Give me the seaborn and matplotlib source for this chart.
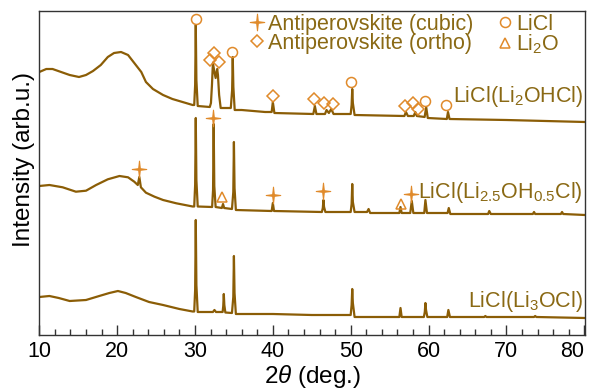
import numpy as np
import pandas as pd
import matplotlib
matplotlib.use("Agg")
import matplotlib.pyplot as plt
from matplotlib.path import Path
from matplotlib.ticker import MultipleLocator
import seaborn as sns

# ---- XRD patterns (2theta in degrees, intensity in arb. units) ----
li3ocl_2theta = [10.0, 11.3, 12.5, 13.9, 16.0, 17.7, 19.0, 20.1, 21.1, 22.4,
                 24.1, 25.9, 28.0, 29.7,
                 29.9, 30.02, 30.1, 30.18, 30.35,
                 32.3, 32.5, 32.7,
                 33.55, 33.63, 33.7, 33.77, 33.9,
                 34.75, 34.92, 35.0, 35.08, 35.25,
                 40.0, 45.0,
                 50.0, 50.12, 50.2, 50.28, 50.5,
                 56.25, 56.4, 56.55,
                 59.4, 59.52, 59.6, 59.68, 59.85,
                 62.4, 62.55, 62.75,
                 67.15, 67.3, 67.45,
                 73.55, 73.7, 73.85,
                 80.1]
li3ocl_int = [38, 39, 37, 34, 35, 39, 42, 44, 42, 38,
              33, 30, 26, 23.5,
              23.5, 45, 115, 50, 23,
              23, 25, 23,
              23, 29, 41, 30, 22.5,
              22, 38, 79, 42, 21,
              21, 20,
              20, 30, 46, 32, 18,
              18, 27, 18,
              18, 23, 32, 25, 18,
              18, 25, 18,
              18, 19, 18,
              18, 19, 18,
              17]

li25_2theta = [10.0, 11.3, 13.0, 14.7, 16.0, 17.3, 18.8, 20.3, 21.4, 22.2,
               22.65, 22.85, 23.05, 23.7, 24.8, 25.9, 27.6, 29.7,
               29.9, 30.02, 30.1, 30.18, 30.35,
               32.2, 32.32, 32.4, 32.48, 32.65,
               33.45, 33.6, 33.75,
               34.75, 34.92, 35.0, 35.08, 35.25,
               39.85, 40.0, 40.15,
               46.3, 46.42, 46.5, 46.58, 46.75,
               50.0, 50.12, 50.2, 50.28, 50.5,
               52.1, 52.3, 52.5,
               56.25, 56.4, 56.55,
               57.65, 57.85, 58.05,
               59.45, 59.6, 59.8,
               62.45, 62.6, 62.8,
               67.65, 67.8, 68.0,
               73.4, 73.55, 73.7,
               77.0, 77.15, 77.3,
               80.1]
li25_int = [34, 35, 32.7, 28.3, 29.3, 35, 40.7, 44, 42.7, 38.3,
            35, 43, 32.7, 27.3, 23.3, 20, 16.7, 13.5,
            13.5, 35, 102, 40, 13.5,
            13, 30, 96, 34, 13,
            12, 16, 12,
            11, 28, 78, 32, 10,
            9, 17, 9,
            8, 12, 20, 13, 8,
            8, 16, 36, 18, 8,
            8, 11, 7,
            7, 13, 7,
            7, 19, 7,
            7, 20, 7,
            7, 12, 6,
            6, 9, 6,
            6, 8, 6,
            6, 8, 6,
            5]

li2ohcl_2theta = [10.0, 10.9, 11.7, 12.8, 13.9, 15.1, 16.0, 16.9, 17.9, 18.8,
                  19.6, 20.5, 21.4, 22.2, 23.1, 23.7, 24.6, 25.9, 27.1, 28.4,
                  29.7,
                  29.9, 30.02, 30.1, 30.18, 30.35,
                  31.9, 32.05, 32.18, 32.3, 32.45, 32.65, 32.85, 32.95, 33.1, 33.3,
                  34.6, 34.77, 34.85, 34.93, 35.1,
                  36.0, 39.0, 39.85, 40.0, 40.2,
                  45.2, 45.4, 45.6, 46.7, 46.9, 47.2, 47.5, 47.8,
                  50.0, 50.12, 50.2, 50.28, 50.5,
                  56.9, 57.1, 57.35, 58.1, 58.3, 58.5,
                  59.5, 59.7, 59.9,
                  62.35, 62.5, 62.7, 70.0, 80.1]
li2ohcl_int = [53, 56, 56, 53, 50, 48, 50, 54, 60, 68,
               72, 73, 70, 62, 53, 43, 36, 30, 26, 23,
               20,
               20, 40, 100, 45, 19,
               18, 22, 40, 62, 55, 47, 56, 50, 30, 17,
               17, 35, 68, 38, 15,
               15, 13, 13, 23, 12,
               11, 19, 11, 11, 15, 12, 16, 11,
               11, 20, 36, 22, 10,
               9, 13, 9, 9, 13, 9,
               8, 18, 7,
               6, 13, 6, 5, 3]

sample_names = ["LiCl(Li$_3$OCl)", "LiCl(Li$_{2.5}$OH$_{0.5}$Cl)", "LiCl(Li$_2$OHCl)"]
sample_offsets = [0, 115, 210]

# ---- reflection markers (2theta, stacked intensity) ----
cubic_x = [22.85, 32.35, 40.0, 46.5, 57.8]
cubic_y = [166, 217, 140, 144, 141]
ortho_x = [31.9, 32.5, 33.1, 40.0, 45.3, 46.6, 47.7, 57.0, 58.0, 58.7]
ortho_y = [275, 282, 273, 239, 236, 232, 231, 229, 232, 226]
licl_x = [30.1, 34.7, 50.1, 59.6, 62.3]
licl_y = [316, 283, 253, 234, 230]
li2o_x = [33.5, 56.4]
li2o_y = [138, 131]

line_color = "#8B5D06"
text_color = "#8A6914"
mark_color = "#E08A2A"

sns.set_theme(style="ticks")
plt.rcParams["font.family"] = ["Liberation Sans", "DejaVu Sans"]
plt.rcParams["mathtext.fontset"] = "custom"
plt.rcParams["mathtext.rm"] = "Liberation Sans"
plt.rcParams["mathtext.it"] = "Liberation Sans:italic"
plt.rcParams["axes.edgecolor"] = "#333333"
plt.rcParams["axes.linewidth"] = 1.0

fs = 15.5

frames = []
for name, off, tt, inten in [
    (sample_names[0], sample_offsets[0], li3ocl_2theta, li3ocl_int),
    (sample_names[1], sample_offsets[1], li25_2theta, li25_int),
    (sample_names[2], sample_offsets[2], li2ohcl_2theta, li2ohcl_int),
]:
    frames.append(pd.DataFrame({"two_theta": tt,
                                "intensity": np.asarray(inten, dtype=float) + off,
                                "sample": name}))
df = pd.concat(frames, ignore_index=True)

fig, ax = plt.subplots(figsize=(5.89, 3.90), dpi=100)
fig.subplots_adjust(left=39.3 / 589, right=585 / 589,
                    bottom=(390 - 335) / 390, top=(390 - 11) / 390)

sns.lineplot(data=df, x="two_theta", y="intensity", units="sample",
             estimator=None, sort=False, color=line_color, lw=1.6, ax=ax)

# thin 4-pointed star for the cubic antiperovskite reflections
s = 0.11
star = Path([(0, 1.15), (s, s), (1, 0), (s, -s), (0, -1.15), (-s, -s), (-1, 0), (-s, s), (0, 1.15)],
            [Path.MOVETO] + [Path.LINETO] * 7 + [Path.CLOSEPOLY])

h_cubic, = ax.plot(cubic_x, cubic_y, ls="none", marker=star, ms=12,
                   mfc=mark_color, mec=mark_color, mew=0.8,
                   label="Antiperovskite (cubic)")
h_ortho, = ax.plot(ortho_x, ortho_y, ls="none", marker="D", ms=5.8,
                   mfc="none", mec=mark_color, mew=1.1,
                   label="Antiperovskite (ortho)")
h_licl, = ax.plot(licl_x, licl_y, ls="none", marker="o", ms=7.2,
                  mfc="none", mec=mark_color, mew=1.1, label="LiCl")
h_li2o, = ax.plot(li2o_x, li2o_y, ls="none", marker="^", ms=7.2,
                  mfc="none", mec=mark_color, mew=1.1, label="Li$_2$O")

leg = ax.legend(handles=[h_cubic, h_ortho, h_licl, h_li2o], ncol=2,
                loc="upper left", bbox_to_anchor=(0.3865, 0.992),
                frameon=False, fontsize=fs, borderpad=0, borderaxespad=0,
                handlelength=0.62, handletextpad=0.2, columnspacing=1.18,
                labelspacing=-0.08, labelcolor=text_color)

# sample labels at the right end of each pattern
label_base = [28, 137, 233]
for name, yb in zip(sample_names, label_base):
    ax.text(79.85, yb, name, ha="right", va="baseline", fontsize=fs, color=text_color)

ax.set_xlim(10, 80.1)
ax.set_ylim(0, 324)
ax.xaxis.set_major_locator(MultipleLocator(10))
ax.xaxis.set_minor_locator(MultipleLocator(2))
ax.tick_params(axis="x", which="major", direction="in", length=7, width=1,
               labelsize=fs, pad=4, color="#333333", labelcolor="black")
ax.tick_params(axis="x", which="minor", direction="in", length=4, width=1,
               color="#333333")
ax.set_yticks([])
ax.tick_params(axis="x", bottom=True, top=False)
for lab in ax.get_xticklabels():
    if lab.get_text() == "80":
        lab.set_ha("right")

ax.set_xlabel(r"$\mathit{2\theta}$ (deg.)", fontsize=17.5, color="black")
ax.xaxis.set_label_coords(0.5, -0.148)
ax.xaxis.label.set_va("baseline")
ax.set_ylabel("Intensity (arb.u.)", fontsize=17.5, labelpad=3, color="black", y=0.543)

fig.savefig("out.png", dpi=100)
